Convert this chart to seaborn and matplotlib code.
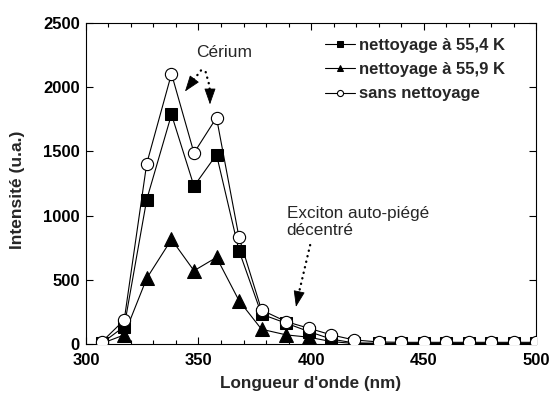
import matplotlib
matplotlib.use("Agg")
import matplotlib.pyplot as plt
import seaborn as sns
import pandas as pd
from matplotlib.ticker import MultipleLocator

sns.set_theme(style="ticks")
plt.rcParams['font.family'] = ['Liberation Sans', 'DejaVu Sans']

wavelength = [307, 317, 327, 338, 348, 358, 368, 378, 389, 399,
              409, 419, 430, 440, 450, 460, 470, 480, 490, 500]
nett_554 = [5, 135, 1125, 1788, 1229, 1475, 726, 231, 161, 96,
            37, 8, 5, 5, 5, 5, 5, 5, 5, 5]
nett_559 = [3, 70, 511, 814, 570, 674, 337, 114, 70, 52,
            18, 3, 2, 2, 2, 2, 2, 2, 2, 2]
sans_nett = [15, 186, 1405, 2105, 1488, 1763, 830, 264, 173, 122,
             70, 31, 15, 12, 12, 12, 12, 12, 12, 12]

labels = ["nettoyage à 55,4 K", "nettoyage à 55,9 K", "sans nettoyage"]

fig, ax = plt.subplots(figsize=(5.51, 3.98), dpi=100)
fig.subplots_adjust(left=0.156, right=0.973, bottom=0.136, top=0.942)

df = pd.DataFrame({"x": wavelength, "a": nett_554, "b": nett_559, "c": sans_nett})

sns.lineplot(data=df, x="x", y="b", ax=ax, color="black", lw=0.8,
             marker="^", markersize=9.5, markerfacecolor="black",
             markeredgecolor="black", label=labels[1], zorder=3)
sns.lineplot(data=df, x="x", y="a", ax=ax, color="black", lw=0.8,
             marker="s", markersize=8.3, markerfacecolor="black",
             markeredgecolor="black", label=labels[0], zorder=4)
sns.lineplot(data=df, x="x", y="c", ax=ax, color="black", lw=0.8,
             marker="o", markersize=8.8, markerfacecolor="white",
             markeredgecolor="black", markeredgewidth=0.8,
             label=labels[2], zorder=5)

ax.set_xlim(300, 500)
ax.set_ylim(0, 2500)
ax.xaxis.set_major_locator(MultipleLocator(50))
ax.xaxis.set_minor_locator(MultipleLocator(10))
ax.yaxis.set_major_locator(MultipleLocator(500))
ax.tick_params(which="both", direction="in", top=True, right=True,
               labelsize=12, width=0.8, colors="black")
ax.tick_params(which="major", length=5)
ax.tick_params(which="minor", length=3)
ax.tick_params(axis="x", which="major", pad=6.5)
ax.tick_params(axis="y", which="major", pad=4.5)
for lab in ax.get_xticklabels() + ax.get_yticklabels():
    lab.set_fontweight("bold")
for sp in ax.spines.values():
    sp.set_color("black")
    sp.set_linewidth(0.8)
    sp.set_visible(True)

ax.set_xlabel("Longueur d'onde (nm)", fontsize=12.3, fontweight="bold")
ax.set_ylabel("Intensité (u.a.)", fontsize=12.5, fontweight="bold")
ax.xaxis.set_label_coords(0.5, -0.1)
ax.yaxis.set_label_coords(-0.151, 0.48)
ax.xaxis.label.set_va("top")
ax.yaxis.label.set_va("center")

handles, labs = ax.get_legend_handles_labels()
order = [labs.index(l) for l in labels]
leg = ax.legend([handles[i] for i in order], [labs[i] for i in order],
                loc="upper left", frameon=False, markerscale=0.5,
                handlelength=1.8, handletextpad=0.25, labelspacing=0.55,
                prop={"weight": "bold", "size": 12},
                bbox_to_anchor=(0.531, 0.953), borderaxespad=0, borderpad=0)

ax.text(361.5, 2270, "Cérium", fontsize=12.5, ha="center", va="center")
ax.text(389.2, 949, "Exciton auto-piégé\ndécentré", fontsize=12.3,
        ha="left", va="center", linespacing=1.2)

dot_kw = dict(color="black", lw=1.7, linestyle=(0, (0.1, 2.3)),
              dash_capstyle="round", solid_capstyle="round")
head_kw = dict(arrowstyle="-|>,head_length=0.85,head_width=0.3",
               color="black", lw=0.6, shrinkA=0, shrinkB=0)

# Cérium arrow 1
ax.plot([351.1, 348.0], [2131, 2061], **dot_kw)
ax.annotate("", xy=(344.0, 1967), xytext=(348.0, 2061), arrowprops=head_kw)
# Cérium arrow 2
ax.plot([353.2, 354.7, 355.1], [2118, 2022, 1967], **dot_kw)
ax.annotate("", xy=(355.1, 1866), xytext=(355.1, 1967), arrowprops=head_kw)
# Exciton arrow
ax.plot([399.6, 394.7], [770, 404], **dot_kw)
ax.annotate("", xy=(393.3, 288), xytext=(394.7, 404), arrowprops=head_kw)

fig.savefig("out.png", dpi=100)
